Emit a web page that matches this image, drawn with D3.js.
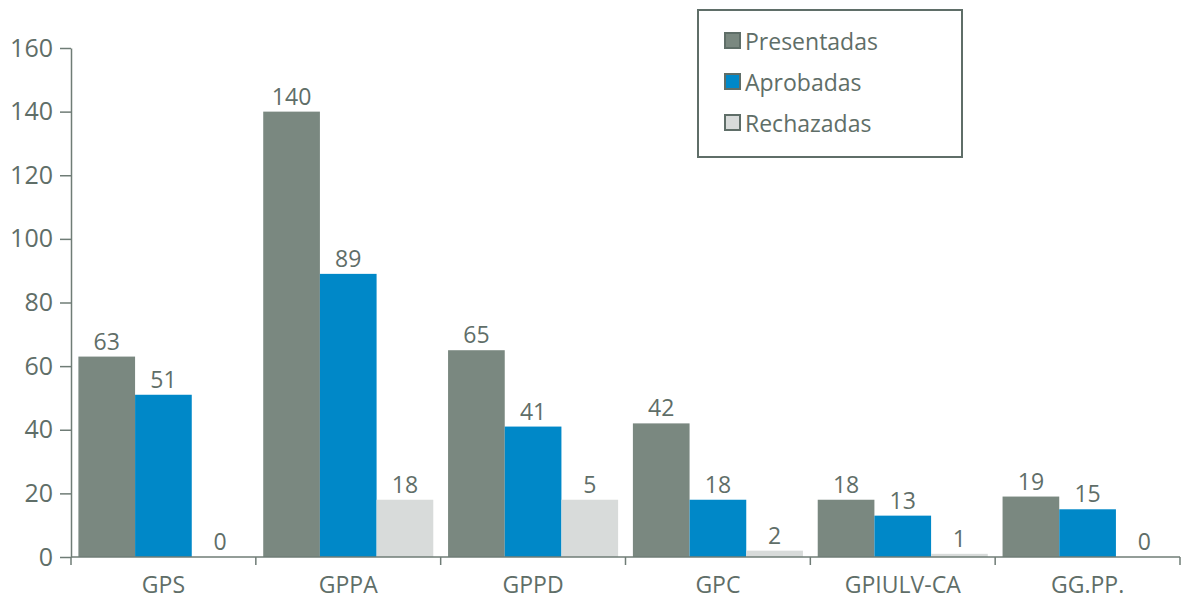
<!DOCTYPE html>
<html>
<head>
<meta charset="utf-8">
<script src="https://cdn.jsdelivr.net/npm/d3@7"></script>
<style>
	body { margin: 0; background: #fff; }
	svg text { font-family: "Open Sans", "Noto Sans", sans-serif; fill: #5f6e68; }
	.axis path, .axis line { stroke: #6f7c76; stroke-width: 1.5; }
</style>
</head>
<body>
<svg class="chart"></svg>
<script>
var categories = ["GPS", "GPPA", "GPPD", "GPC", "GPIULV-CA", "GG.PP."];
var seriesNames = ["Presentadas", "Aprobadas", "Rechazadas"];
var presentadas = [63, 140, 65, 42, 18, 19];
var aprobadas = [51, 89, 41, 18, 13, 15];
// bar heights as drawn in the source; the GPPD bar is drawn at 18 but labelled 5
var rechazadas = [0, 18, 18, 2, 1, 0];
var rechazadasLabels = [0, 18, 5, 2, 1, 0];
var yTicks = [0, 20, 40, 60, 80, 100, 120, 140, 160];
var colors = ["#7a8880", "#0088c8", "#d8dbda"];

function drawChart() {
	var margin = {top: 48, right: 6, bottom: 43, left: 71},
		width = 1186 - margin.left - margin.right,
		height = 600 - margin.top - margin.bottom;

	var series = [presentadas, aprobadas, rechazadas];
	var labels = [presentadas, aprobadas, rechazadasLabels];

	var data = [];
	categories.forEach(function(c, i) {
		series.forEach(function(s, j) {
			data.push({cat: c, key: seriesNames[j], value: s[i], label: labels[j][i], idx: j});
		});
	});

	var x0 = d3.scaleBand()
		.domain(categories)
		.range([0, width])
		.paddingInner(0.08)
		.paddingOuter(0.04);

	var x1 = d3.scaleBand()
		.domain(seriesNames)
		.range([0, x0.bandwidth()]);

	var y = d3.scaleLinear()
		.domain([0, 160])
		.range([height, 0]);

	var svg = d3.select(".chart")
		.attr("width", 1186)
		.attr("height", 600);

	var chart = svg.append("g")
		.attr("transform", "translate(" + margin.left + "," + margin.top + ")");

	// Bars
	chart.selectAll(".bar")
		.data(data)
	  .enter().append("rect")
		.attr("class", "bar")
		.attr("x", function(d) { return x0(d.cat) + x1(d.key); })
		.attr("width", x1.bandwidth())
		.attr("y", function(d) { return y(d.value); })
		.attr("height", function(d) { return height - y(d.value); })
		.attr("fill", function(d) { return colors[d.idx]; });

	// Value labels
	chart.selectAll(".vlabel")
		.data(data)
	  .enter().append("text")
		.attr("class", "vlabel")
		.attr("x", function(d) { return x0(d.cat) + x1(d.key) + x1.bandwidth() / 2; })
		.attr("y", function(d) { return y(d.value) - 7; })
		.attr("text-anchor", "middle")
		.style("font-size", "23px")
		.text(function(d) { return d.label; });

	// y axis
	var yAxis = d3.axisLeft(y)
		.tickValues(yTicks)
		.tickSize(11)
		.tickSizeOuter(0)
		.tickPadding(7);
	var gy = chart.append("g")
		.attr("class", "y axis")
		.call(yAxis);
	gy.selectAll("text").style("font-size", "25px").style("fill", "#5f6e68");

	// x axis with ticks between categories
	var step = width / categories.length;
	var gx = chart.append("g")
		.attr("class", "x axis")
		.attr("transform", "translate(0," + height + ")");
	gx.append("line")
		.attr("x1", 0).attr("x2", width)
		.attr("y1", 0).attr("y2", 0);
	gx.selectAll(".xtick")
		.data(d3.range(categories.length + 1))
	  .enter().append("line")
		.attr("class", "xtick")
		.attr("x1", function(i) { return i * step; })
		.attr("x2", function(i) { return i * step; })
		.attr("y1", 0).attr("y2", 8);
	gx.selectAll(".xlabel")
		.data(categories)
	  .enter().append("text")
		.attr("class", "xlabel")
		.attr("x", function(d) { return x0(d) + x0.bandwidth() / 2; })
		.attr("y", 36)
		.attr("text-anchor", "middle")
		.style("font-size", "23px")
		.text(function(d) { return d; });

	// Legend
	var legend = svg.append("g")
		.attr("transform", "translate(698,10)");
	legend.append("rect")
		.attr("width", 264)
		.attr("height", 147)
		.attr("fill", "#fff")
		.attr("stroke", "#5f6e68")
		.attr("stroke-width", 2);
	var items = legend.selectAll(".item")
		.data(seriesNames)
	  .enter().append("g")
		.attr("class", "item")
		.attr("transform", function(d, i) { return "translate(26," + (32 + i * 41) + ")"; });
	items.append("rect")
		.attr("x", 1).attr("y", -9)
		.attr("width", 15).attr("height", 15)
		.attr("fill", function(d, i) { return colors[i]; })
		.attr("stroke", "#5f6e68")
		.attr("stroke-width", 2);
	items.append("text")
		.attr("x", 21)
		.attr("y", 8)
		.style("font-size", "23px")
		.text(function(d) { return d; });
}

drawChart();
</script>
</body>
</html>
